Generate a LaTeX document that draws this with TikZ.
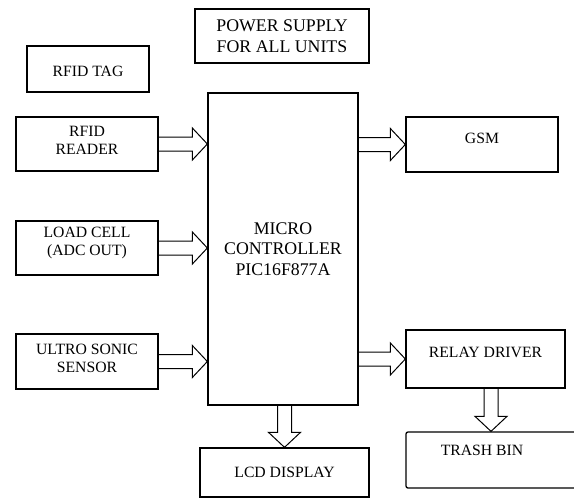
\documentclass[tikz,border=0pt]{standalone}
\usepackage{fontspec}
\setmainfont{Liberation Serif}
\newfontfamily\blkfont{Liberation Serif}
\usetikzlibrary{calc}

\tikzset{
  blk/.style={draw, line width=1.3pt, inner sep=0pt, align=center, font=\blkfont\fontsize{15.7}{18}\selectfont},
  bigblk/.style={blk, font=\blkfont\fontsize{17.8}{20.5}\selectfont},
  every label/.style={anchor=center, inner sep=0pt, align=center, font=\blkfont\fontsize{15.7}{18}\selectfont},
  % hollow arrows, shaft 14pt wide, head 32pt wide and 15pt long
  hollow/.style={line width=1pt, to path={let \p1=(\tikztostart), \p2=(\tikztotarget) in
    (\x1,\y1+7pt) -- (\x2-15pt,\y1+7pt) -- (\x2-15pt,\y1+16pt) -- (\x2,\y1)
    -- (\x2-15pt,\y1-16pt) -- (\x2-15pt,\y1-7pt) -- (\x1,\y1-7pt)}},
  hollowdown/.style={line width=1pt, to path={let \p1=(\tikztostart), \p2=(\tikztotarget) in
    (\x1-7pt,\y1) -- (\x1-7pt,\y2+15pt) -- (\x1-16pt,\y2+15pt) -- (\x1,\y2)
    -- (\x1+16pt,\y2+15pt) -- (\x1+7pt,\y2+15pt) -- (\x1+7pt,\y1)}}
}

\begin{document}
\begin{tikzpicture}[x=1pt, y=-1pt]
    \useasboundingbox (0,0) rectangle (574,499) ;

    \node [bigblk, minimum width=174pt, minimum height=54pt] (power) at (282,36) {POWER SUPPLY\\FOR ALL UNITS} ;
    \node [blk, minimum width=122pt, minimum height=46pt, label={[yshift=-2pt]center:RFID TAG}] (tag) at (88,69) {} ;

    \node [blk, minimum width=142pt, minimum height=54pt, label={[yshift=4pt]center:RFID\\READER}] (reader) at (87,144) {} ;
    \node [blk, minimum width=142pt, minimum height=54pt, label={[yshift=5pt]center:LOAD CELL\\(ADC OUT)}] (load) at (87,248) {} ;
    \node [blk, minimum width=142pt, minimum height=55pt, label={[yshift=3pt]center:ULTRO SONIC\\SENSOR}] (sonic) at (87,361.5) {} ;

    \node [bigblk, minimum width=150pt, minimum height=312pt] (mcu) at (283,249) {MICRO\\CONTROLLER\\PIC16F877A} ;

    \node [blk, minimum width=152pt, minimum height=55pt, label={[yshift=6.5pt]center:GSM}] (gsm) at (482,144.5) {} ;
    \node [blk, minimum width=159pt, minimum height=58pt, label={[yshift=7pt]center:RELAY DRIVER}] (relay) at (485.5,359) {} ;
    \node [blk, rounded corners=2pt, minimum width=170pt, minimum height=56pt, label={[xshift=-9pt, yshift=10pt]center:TRASH BIN}] (trash) at (491,460) {} ;
    \node [blk, minimum width=169pt, minimum height=49pt] (lcd) at (284.5,472.5) {LCD DISPLAY} ;

    \draw [hollow] (reader.east) to (reader.east -| mcu.west) ;
    \draw [hollow] (load.east) to (load.east -| mcu.west) ;
    \draw [hollow] (sonic.east) to (sonic.east -| mcu.west) ;

    \draw [hollow] (gsm.west -| mcu.east) to (gsm.west) ;
    \draw [hollow] (relay.west -| mcu.east) to (relay.west) ;

    \draw [hollowdown] (lcd.north |- mcu.south) to (lcd.north) ;
    \draw [hollowdown] (trash.north |- relay.south) to (trash.north) ;
\end{tikzpicture}
\end{document}
